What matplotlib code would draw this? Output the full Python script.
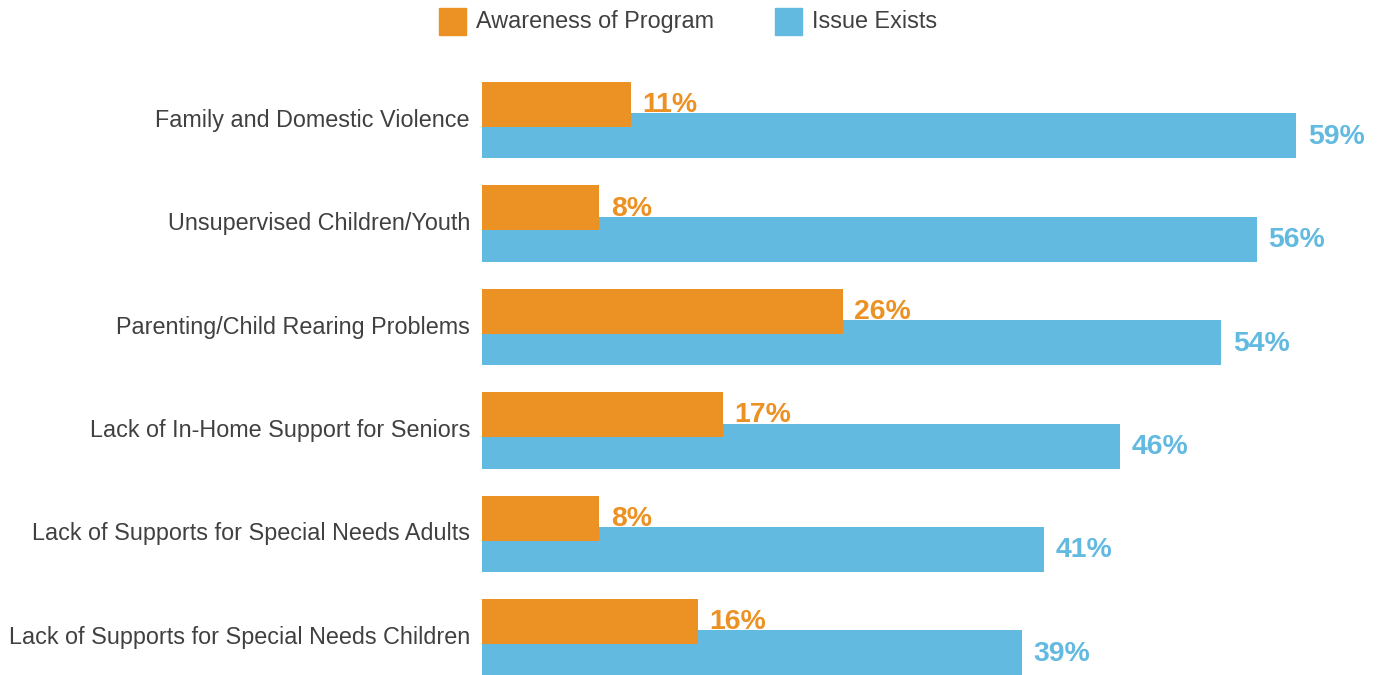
import matplotlib
matplotlib.use("Agg")
import matplotlib.pyplot as plt
from matplotlib.patches import Rectangle
import numpy as np

categories = [
    "Family and Domestic Violence",
    "Unsupervised Children/Youth",
    "Parenting/Child Rearing Problems",
    "Lack of In-Home Support for Seniors",
    "Lack of Supports for Special Needs Adults",
    "Lack of Supports for Special Needs Children",
]
# bar lengths (labels show rounded values)
awareness = [10.8, 8.48, 26.14, 17.46, 8.48, 15.63]
issue_exists = [58.99, 56.14, 53.55, 46.23, 40.72, 39.13]
series_names = ["Awareness of Program", "Issue Exists"]

ORANGE = "#EC9224"
BLUE = "#63BAE0"
GRAY = "#404040"

plt.rcParams["font.family"] = ["Liberation Sans", "DejaVu Sans"]

W, H = 1382, 675
fig = plt.figure(figsize=(W / 100, H / 100), dpi=100)

px_per_unit = 103.4
row0 = 120.25
ax_left = 482 / W
px_per_pct = 13.8
xmax = 65
ax = fig.add_axes([ax_left, 0, xmax * px_per_pct / W, 1])
ax.set_xlim(0, xmax)
ax.set_ylim((H - row0) / px_per_unit, -row0 / px_per_unit)
ax.axis("off")

y = np.arange(len(categories))
off = 31.5 / 2 / px_per_unit
bh = 45 / px_per_unit

ax.barh(y + off, issue_exists, height=bh, color=BLUE, zorder=2)
ax.barh(y - off, awareness, height=bh, color=ORANGE, zorder=3)

gap = 11.7 / px_per_pct
base = 7.8 / px_per_unit
for i in range(len(categories)):
    ax.text(awareness[i] + gap, y[i] - off + base, f"{round(awareness[i])}%",
            color=ORANGE, fontsize=20.4, fontweight="bold", va="baseline",
            ha="left", zorder=4, clip_on=False)
    ax.text(issue_exists[i] + gap, y[i] + off + base, f"{round(issue_exists[i])}%",
            color=BLUE, fontsize=20.4, fontweight="bold", va="baseline",
            ha="left", zorder=4, clip_on=False)
    ax.text(-12 / px_per_pct, y[i] + 6.5 / px_per_unit, categories[i],
            color=GRAY, fontsize=16.8, va="baseline", ha="right", clip_on=False)

# legend
for (x0, color, tx, name) in [(439, ORANGE, 476, series_names[0]),
                              (775, BLUE, 812.5, series_names[1])]:
    fig.patches.append(Rectangle((x0 / W, 1 - 35 / H), 27 / W, 27 / H,
                                 transform=fig.transFigure, color=color))
    fig.text(tx / W, 1 - 28 / H, name, color=GRAY, fontsize=16.8,
             va="baseline", ha="left")

fig.savefig("out.png", dpi=100)
